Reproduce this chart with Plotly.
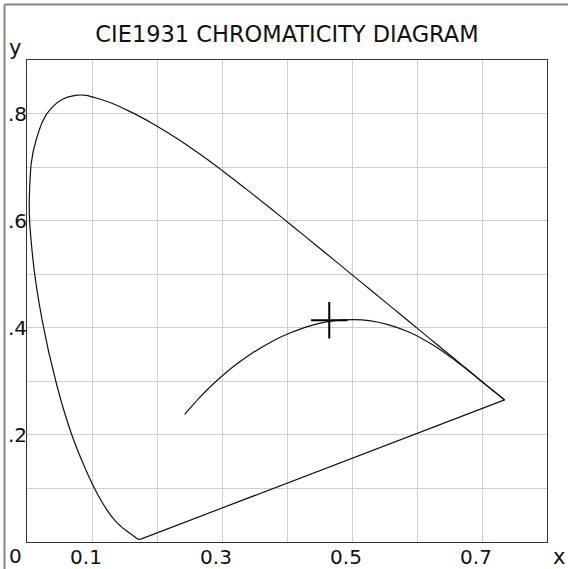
import plotly.graph_objects as go

# CIE 1931 spectral locus (380-700 nm, 5 nm steps)
locus_x = [0.1741, 0.1740, 0.1738, 0.1736, 0.1733, 0.1730, 0.1726, 0.1721, 0.1714, 0.1703,
           0.1689, 0.1669, 0.1644, 0.1611, 0.1566, 0.1510, 0.1440, 0.1355, 0.1241, 0.1096,
           0.0913, 0.0687, 0.0454, 0.0235, 0.0082, 0.0039, 0.0139, 0.0389, 0.0743, 0.1142,
           0.1547, 0.1929, 0.2296, 0.2658, 0.3016, 0.3373, 0.3731, 0.4087, 0.4441, 0.4788,
           0.5125, 0.5448, 0.5752, 0.6029, 0.6270, 0.6482, 0.6658, 0.6801, 0.6915, 0.7006,
           0.7079, 0.7140, 0.7190, 0.7230, 0.7260, 0.7283, 0.7300, 0.7311, 0.7320, 0.7327,
           0.7334, 0.7340, 0.7344, 0.7346, 0.7347]
locus_y = [0.0050, 0.0050, 0.0049, 0.0049, 0.0048, 0.0048, 0.0048, 0.0048, 0.0051, 0.0058,
           0.0069, 0.0086, 0.0109, 0.0138, 0.0177, 0.0227, 0.0297, 0.0399, 0.0578, 0.0868,
           0.1327, 0.2007, 0.2950, 0.4127, 0.5384, 0.6548, 0.7502, 0.8120, 0.8338, 0.8262,
           0.8059, 0.7816, 0.7543, 0.7243, 0.6923, 0.6589, 0.6245, 0.5896, 0.5547, 0.5202,
           0.4866, 0.4544, 0.4242, 0.3965, 0.3725, 0.3514, 0.3340, 0.3197, 0.3083, 0.2993,
           0.2920, 0.2859, 0.2809, 0.2770, 0.2740, 0.2717, 0.2700, 0.2689, 0.2680, 0.2673,
           0.2666, 0.2660, 0.2656, 0.2654, 0.2653]

# Planckian locus (high temperature -> low temperature)
planck_x = [0.2426, 0.2501, 0.2565, 0.2637, 0.2807, 0.2952, 0.3064, 0.3221, 0.3451,
            0.3805, 0.4053, 0.4369, 0.4770, 0.5267, 0.5857, 0.6251, 0.6528, 0.6670,
            0.6810, 0.6960, 0.7100, 0.7220, 0.7347]
planck_y = [0.2381, 0.2489, 0.2577, 0.2673, 0.2884, 0.3048, 0.3166, 0.3318, 0.3516,
            0.3768, 0.3907, 0.4041, 0.4137, 0.4133, 0.3931, 0.3674, 0.3444, 0.3312,
            0.3177, 0.3030, 0.2892, 0.2775, 0.2653]

# marked point
point_x = [0.465]
point_y = [0.414]

x_tickvals = [0.1, 0.2, 0.3, 0.4, 0.5, 0.6, 0.7]
x_ticktext = ["0.1", "", "0.3", "", "0.5", "", "0.7"]
y_tickvals = [0.1, 0.2, 0.3, 0.4, 0.5, 0.6, 0.7, 0.8]
y_ticktext = ["", ".2", "", ".4", "", ".6", "", ".8"]
origin_label = "0"

W, H = 568, 569
L, R, T, B = 27, 21, 60, 27
PW, PH = W - L - R, H - T - B


def px(xp):
    return (xp - L) / PW


def py(yp):
    return (H - B - yp) / PH


FONT = "DejaVu Sans"
TXT = "#111111"
FRAME = "#888888"

fig = go.Figure()
# spectral locus (smooth) and purple line
fig.add_trace(go.Scatter(
    x=locus_x, y=locus_y, mode="lines", line=dict(color=TXT, width=1.2, shape="spline",
                                                  smoothing=1.2),
    hoverinfo="skip", showlegend=False))
fig.add_trace(go.Scatter(
    x=[locus_x[-1], locus_x[0]], y=[locus_y[-1], locus_y[0]], mode="lines",
    line=dict(color=TXT, width=1.2), hoverinfo="skip", showlegend=False))
fig.add_trace(go.Scatter(
    x=planck_x, y=planck_y, mode="lines", line=dict(color=TXT, width=1.2, shape="spline"),
    hoverinfo="skip", showlegend=False))
fig.add_trace(go.Scatter(
    x=point_x, y=point_y, mode="markers",
    marker=dict(symbol="cross-thin", size=26, line=dict(color="#000000", width=2)),
    hoverinfo="skip", showlegend=False))

axis_common = dict(showgrid=True, gridcolor="#cfcfcf", gridwidth=1, zeroline=False,
                   showline=True, mirror=True, linecolor="#333333", linewidth=1,
                   ticks="", automargin=False,
                   tickfont=dict(size=20, family=FONT, color=TXT))

fig.update_layout(
    template="none",
    width=W, height=H,
    margin=dict(l=L, r=R, t=T, b=B, autoexpand=False),
    paper_bgcolor="white", plot_bgcolor="white",
    font=dict(family=FONT, color=TXT, size=20),
    title=dict(text="CIE1931 CHROMATICITY DIAGRAM", x=0.5, xref="paper", xanchor="center",
               y=1 - 34 / H, yref="container", yanchor="middle", automargin=False,
               font=dict(family=FONT, size=22.5, color=TXT)),
    xaxis=dict(range=[0, 0.8], tickvals=x_tickvals, ticktext=x_ticktext,
               ticklabelshift=-6, ticklabelstandoff=-3, **axis_common),
    yaxis=dict(range=[0, 0.9], tickvals=y_tickvals, ticktext=y_ticktext,
               ticklabelstandoff=-5, **axis_common),
    shapes=[
        dict(type="line", xref="paper", yref="paper",
             x0=px(4.5), x1=px(568), y0=py(4.5), y1=py(4.5),
             line=dict(color=FRAME, width=2), layer="above"),
        dict(type="line", xref="paper", yref="paper",
             x0=px(4.5), x1=px(4.5), y0=py(569), y1=py(4.5),
             line=dict(color=FRAME, width=2), layer="above"),
    ],
    annotations=[
        dict(text="y", xref="paper", yref="paper", x=px(15), y=py(48),
             xanchor="center", yanchor="middle", showarrow=False,
             font=dict(family=FONT, size=21, color=TXT)),
        dict(text="x", xref="paper", yref="paper", x=px(558.5), y=py(557),
             xanchor="center", yanchor="middle", showarrow=False,
             font=dict(family=FONT, size=21, color=TXT)),
        dict(text=origin_label, xref="paper", yref="paper", x=px(15), y=py(556),
             xanchor="center", yanchor="middle", showarrow=False,
             font=dict(family=FONT, size=20, color=TXT)),
    ],
)

fig.write_html(
    "out.html",
    config={"displayModeBar": False},
    post_script="document.body.style.margin='0';document.body.style.overflow='hidden';",
)
